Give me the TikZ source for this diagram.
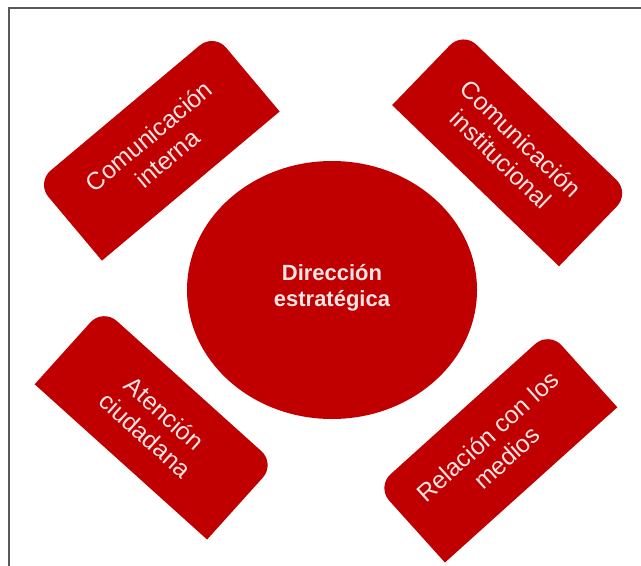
\documentclass[tikz,border=0pt]{standalone}
\usepackage{fontspec}
\setmainfont{Liberation Sans}
\definecolor{rot}{RGB}{192,0,0}
\definecolor{hell}{RGB}{250,228,228}
\begin{document}
\begin{tikzpicture}[x=0.75pt, y=0.75pt, font=\fontsize{18.5}{21.5}\selectfont]
  \useasboundingbox (0,0) rectangle (641,-566);
  % Rahmen
  \draw[black!65, line width=0.9pt] (9,-566) -- (9,-8) -- (641,-8);
  % Mitte
  \fill[rot] (332,-290) ellipse (145 and 129);
  \node[font=\bfseries\fontsize{16.5}{19.5}\selectfont, text=hell, align=center]
    (mitte) at (332,-288) {Dirección\\estratégica};
  % vier Felder rundherum
  \foreach \cx/\cy/\ang/\name/\txt in {
      158/-147/40/interna/{Comunicación\\interna},
      511/-149/-44/institucional/{Comunicación\\institucional},
      155/-424/-42/ciudadana/{Atención\\ciudadana},
      497/-447/42/medios/{Relación con los\\medios}} {
    \begin{scope}[shift={(\cx,\cy)}, rotate=\ang]
      \fill[rot] (-116,-51) [rounded corners=14] -- (-116,51) -- (116,51)
        [sharp corners] -- (116,-51) -- cycle;
    \end{scope}
    \node[rotate=\ang, text=hell, align=center] (\name) at (\cx,\cy) {\txt};
  }
\end{tikzpicture}
\end{document}
